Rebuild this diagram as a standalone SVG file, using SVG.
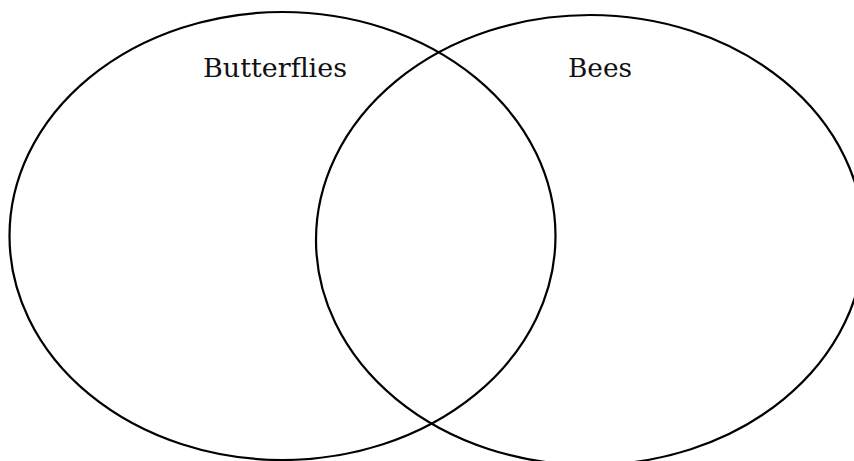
<svg xmlns="http://www.w3.org/2000/svg" width="854" height="461" viewBox="0 0 854 461">
<style>
.set{fill:none;stroke:#000;stroke-width:2.2}
.lbl{font-family:"DejaVu Serif","Liberation Serif",serif;font-size:26.5px;fill:#111}
</style>
<rect width="854" height="461" fill="#fff"/>
<g id="butterflies">
<ellipse class="set" cx="282.5" cy="236" rx="273" ry="224"/>
<text class="lbl" x="203" y="77" textLength="144" lengthAdjust="spacingAndGlyphs">Butterflies</text>
</g>
<g id="bees">
<ellipse class="set" cx="590" cy="240" rx="274" ry="225"/>
<text class="lbl" x="568" y="77" textLength="64" lengthAdjust="spacingAndGlyphs">Bees</text>
</g>
<g id="connectors"/>
</svg>
